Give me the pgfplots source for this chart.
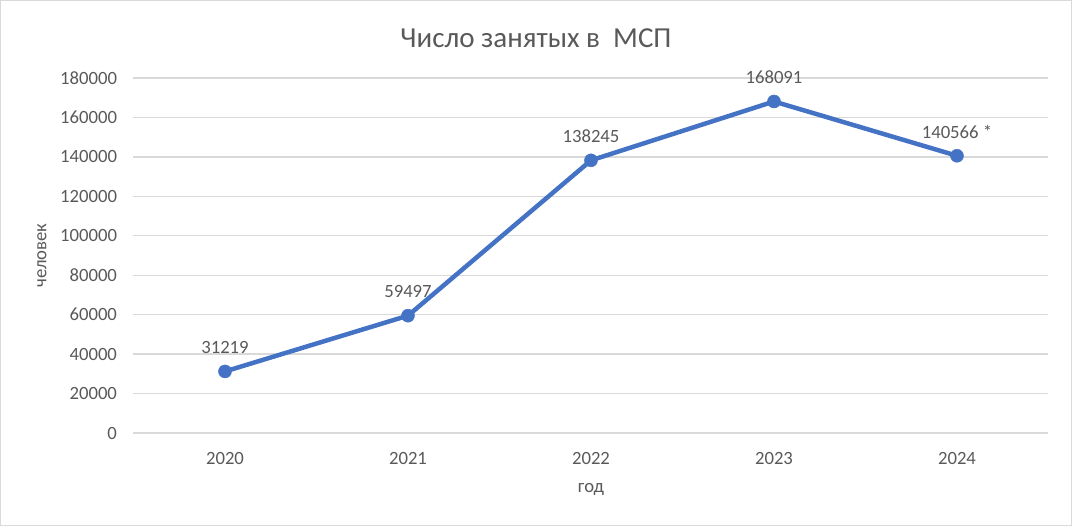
\documentclass[border=0pt]{standalone}
\usepackage{pgfplots}
\pgfplotsset{compat=1.18}
\usepackage{fontspec}
\setmainfont{Carlito}
\definecolor{txt}{HTML}{595959}
\definecolor{grd}{HTML}{D9D9D9}
\definecolor{ln}{HTML}{4472C4}
\begin{document}
\begin{tikzpicture}[x=1pt,y=1pt]
\useasboundingbox (-133.5,-94) rectangle (938.5,433);
\draw[grd,line width=1pt] (-132.5,-93) rectangle (937.5,432);
\begin{axis}[
  at={(0,0)}, anchor=south west,
  scale only axis, width=915pt, height=355pt,
  xmin=-0.5, xmax=4.5, ymin=0, ymax=180000,
  xtick={0,1,2,3,4}, xticklabels={2020,2021,2022,2023,2024},
  ytick={0,20000,...,180000},
  scaled y ticks=false,
  /pgf/number format/assume math mode=true,
  yticklabel={\pgfmathprintnumber[fixed,1000 sep={}]{\tick}},
  ymajorgrids, grid style={grd,line width=1.3pt},
  axis line style={draw=none},
  major tick length=0pt,
  tick label style={font=\fontsize{18.7}{22}\selectfont, text=txt},
  yticklabel style={xshift=-13pt},
  xticklabel style={yshift=-16pt},
  clip=false,
]
\addplot[ln, line width=4.5pt, mark=*, mark size=6.5pt, mark options={fill=ln, draw=ln, line width=0.5pt},
  nodes near coords, point meta=explicit symbolic,
  every node near coord/.style={font=\fontsize{18.7}{22}\selectfont, text=txt, anchor=south, yshift=14pt}]
  table[meta=lab] {
x y lab
0 31219 31219
1 59497 59497
2 138245 138245
3 168091 168091
4 140566 {140566\ *}
};
\end{axis}
\node[font=\fontsize{29}{33}\selectfont, text=txt] at (402.5,395) {Число занятых в\ \ МСП};
\node[font=\fontsize{18.7}{22}\selectfont, text=txt, rotate=90] at (-91.5,177.5) {человек};
\node[font=\fontsize{18.7}{22}\selectfont, text=txt] at (457.5,-57) {год};
\end{tikzpicture}
\end{document}
